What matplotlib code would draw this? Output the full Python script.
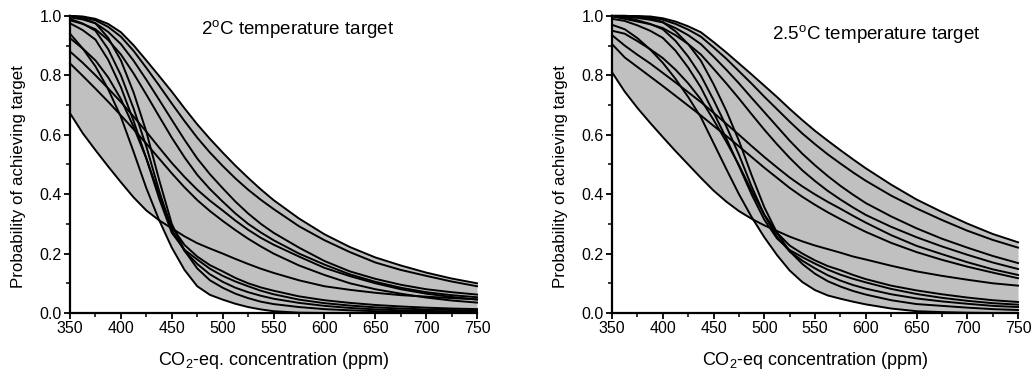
import numpy as np
import matplotlib
matplotlib.use('Agg')
import matplotlib.pyplot as plt
from matplotlib.ticker import MultipleLocator, FormatStrFormatter

plt.rcParams['font.family'] = ['Liberation Sans', 'DejaVu Sans']
plt.rcParams['mathtext.fontset'] = 'custom'
plt.rcParams['mathtext.rm'] = 'Liberation Sans'
plt.rcParams['mathtext.it'] = 'Liberation Sans:italic'

# CO2-eq concentration (ppm) at which the curves were read
conc_2 = [350, 362.5, 375, 387.5, 400, 412.5, 425, 437.5, 450, 462.5, 475, 487.5, 500,
          512.5, 525, 537.5, 550, 575, 600, 625, 650, 675, 700, 725, 750]
conc_25 = [350, 362.5, 375, 387.5, 400, 412.5, 425, 437.5, 450, 462.5, 475, 487.5, 500,
           512.5, 525, 537.5, 550, 562.5, 575, 587.5, 600, 625, 650, 675, 700, 725, 750]

# 2 degC target: probability of achieving target, one curve per sensitivity estimate
t2_a = [1.00, .998, .99, .973, .945, .901, .85, .798, .745, .689, .635, .586, .54, .496, .455, .416, .38, .318, .265, .222, .187, .16, .136, .116, .10]
t2_b = [1.00, .996, .985, .963, .93, .882, .825, .766, .705, .646, .59, .54, .495, .453, .415, .381, .35, .292, .245, .205, .17, .145, .125, .106, .09]
t2_c = [.995, .988, .975, .946, .905, .849, .785, .718, .65, .583, .52, .467, .42, .375, .335, .30, .27, .22, .175, .14, .115, .095, .08, .07, .062]
t2_d = [.985, .973, .955, .919, .87, .806, .735, .662, .59, .524, .465, .417, .375, .335, .30, .271, .245, .20, .163, .13, .105, .085, .07, .06, .053]
t2_e = [.88, .842, .80, .756, .71, .661, .61, .557, .505, .458, .415, .378, .345, .311, .28, .253, .23, .19, .152, .124, .10, .08, .065, .054, .045]
t2_f = [.84, .798, .755, .711, .665, .618, .57, .52, .47, .423, .38, .343, .31, .279, .25, .224, .20, .16, .128, .10, .08, .065, .052, .042, .035]
t2_g = [.672, .605, .548, .493, .44, .389, .345, .312, .285, .258, .235, .217, .20, .182, .165, .149, .135, .11, .09, .078, .068, .06, .055, .05, .046]
t2_s1 = [.94, .89, .83, .753, .66, .542, .42, .313, .22, .145, .09, .061, .045, .031, .02, .012, .006, .001, 0, 0, 0, 0, 0, 0, 0]
t2_s2 = [1.0, .993, .975, .926, .85, .742, .61, .449, .30, .21, .15, .11, .085, .065, .05, .038, .03, .02, .013, .009, .006, .004, .003, .002, .001]
t2_s3 = [.99, .974, .95, .888, .80, .688, .56, .412, .28, .209, .165, .13, .105, .085, .07, .058, .048, .034, .024, .017, .012, .009, .007, .005, .004]
t2_s4 = [.975, .952, .92, .852, .76, .646, .52, .386, .27, .213, .18, .149, .125, .106, .09, .075, .063, .045, .033, .025, .019, .015, .012, .01, .008]
t2_s5 = [.925, .89, .85, .793, .72, .626, .52, .399, .29, .229, .19, .161, .14, .118, .10, .086, .075, .056, .043, .034, .027, .022, .018, .015, .013]

# 2.5 degC target
t25_a = [1.0, 1.0, .999, .998, .992, .981, .965, .945, .912, .877, .84, .803, .765, .727, .687, .649, .613, .58, .548, .517, .487, .432, .382, .34, .301, .266, .238]
t25_b = [1.0, 1.0, .999, .995, .987, .973, .954, .93, .894, .856, .814, .772, .728, .686, .644, .604, .568, .534, .503, .473, .445, .395, .352, .313, .277, .246, .22]
t25_c = [1.0, .997, .993, .987, .978, .959, .935, .905, .863, .819, .773, .724, .676, .628, .58, .536, .497, .461, .428, .398, .37, .325, .285, .25, .22, .192, .168]
t25_d = [.998, .99, .981, .972, .959, .935, .905, .87, .822, .773, .722, .669, .617, .568, .522, .48, .444, .411, .382, .355, .33, .29, .255, .224, .196, .17, .148]
t25_e = [.935, .90, .869, .84, .808, .776, .743, .71, .674, .637, .60, .562, .525, .49, .456, .426, .399, .374, .351, .327, .304, .262, .226, .198, .171, .147, .128]
t25_f = [.905, .86, .828, .796, .764, .731, .698, .665, .63, .596, .561, .525, .489, .455, .421, .391, .364, .339, .316, .294, .273, .236, .205, .179, .156, .136, .117]
t25_g = [.81, .745, .69, .64, .592, .545, .50, .455, .412, .375, .343, .317, .295, .276, .257, .241, .227, .215, .203, .19, .18, .159, .14, .125, .112, .10, .092]
t25_s1 = [.97, .955, .925, .887, .842, .788, .727, .659, .572, .485, .40, .323, .255, .195, .143, .104, .077, .059, .048, .038, .029, .015, .006, .003, .001, 0, 0]
t25_s2 = [1.0, 1.0, .998, .992, .979, .948, .905, .849, .77, .681, .58, .464, .356, .27, .208, .165, .132, .107, .089, .074, .062, .043, .03, .024, .018, .013, .01]
t25_s3 = [1.0, .995, .985, .973, .955, .916, .863, .799, .717, .629, .533, .426, .33, .257, .207, .176, .15, .127, .109, .094, .082, .063, .049, .039, .031, .024, .02]
t25_s4 = [.99, .983, .968, .95, .926, .883, .826, .759, .675, .588, .495, .399, .314, .251, .212, .188, .166, .146, .129, .115, .103, .081, .064, .051, .041, .033, .028]
t25_s5 = [.95, .94, .915, .888, .858, .819, .773, .719, .65, .577, .498, .411, .331, .27, .227, .20, .177, .158, .144, .128, .114, .092, .076, .063, .052, .043, .037]

curves_2 = [t2_a, t2_b, t2_c, t2_d, t2_e, t2_f, t2_g, t2_s1, t2_s2, t2_s3, t2_s4, t2_s5]
curves_25 = [t25_a, t25_b, t25_c, t25_d, t25_e, t25_f, t25_g, t25_s1, t25_s2, t25_s3, t25_s4, t25_s5]


def draw_panel(ax, x, curves, title, xlabel, title_pos):
    arr = np.array(curves)
    ax.fill_between(x, arr.min(axis=0), arr.max(axis=0), color='#c0c0c0', lw=0)
    for c in curves:
        ax.plot(x, c, color='black', lw=1.4, clip_on=False, solid_joinstyle='round')

    ax.set_xlim(350, 750)
    ax.set_ylim(0, 1.0)
    ax.xaxis.set_major_locator(MultipleLocator(50))
    ax.xaxis.set_minor_locator(MultipleLocator(25))
    ax.yaxis.set_major_locator(MultipleLocator(0.2))
    ax.yaxis.set_minor_locator(MultipleLocator(0.1))
    ax.yaxis.set_major_formatter(FormatStrFormatter('%.1f'))
    ax.tick_params(which='major', direction='out', length=4, width=1.3, labelsize=11.5, pad=2)
    ax.tick_params(which='minor', direction='out', length=3, width=1.1)
    for s in ['top', 'right']:
        ax.spines[s].set_visible(False)
    for s in ['left', 'bottom']:
        ax.spines[s].set_linewidth(1.6)

    ax.set_xlabel(xlabel, fontsize=13, labelpad=10)
    ax.set_ylabel('Probability of achieving target', fontsize=12.2)
    ax.yaxis.set_label_coords(-0.108, 0.46)
    ax.text(title_pos[0], title_pos[1], title, transform=ax.transAxes,
            fontsize=13.5, ha='left', va='center')


fig = plt.figure(figsize=(10.33, 3.78), dpi=100)
ax1 = fig.add_axes([0.0678, 0.172, 0.394, 0.786])
ax2 = fig.add_axes([0.5925, 0.172, 0.393, 0.786])

draw_panel(ax1, conc_2, curves_2, r'2$^{\mathrm{o}}$C temperature target',
           r'CO$_2$-eq. concentration (ppm)', (0.322, 0.955))
draw_panel(ax2, conc_25, curves_25, r'2.5$^{\mathrm{o}}$C temperature target',
           r'CO$_2$-eq concentration (ppm)', (0.393, 0.94))

fig.savefig('out.png', dpi=100)
